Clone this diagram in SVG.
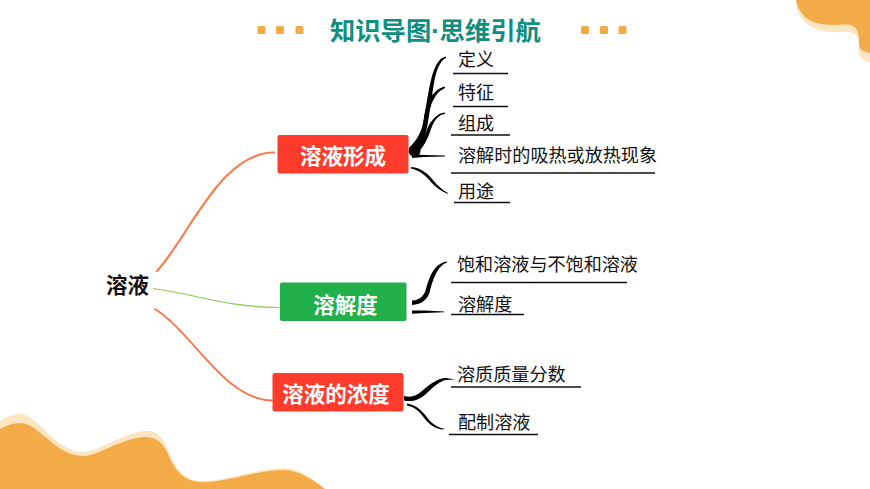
<svg xmlns="http://www.w3.org/2000/svg" width="870" height="489" viewBox="0 0 870 489">
<style>
text{font-family:"Liberation Sans","Noto Sans CJK SC",sans-serif}
.leaf{font-size:18.100px;fill:#111}
.box{font-size:21.500px;font-weight:700;fill:#fff;text-anchor:middle}
.rule{stroke:#111;stroke-width:1.400;fill:none}
.ink{fill:#000;stroke:none}
.dot{fill:#F3AB47}
.pale{fill:#FCE5C1}
.gold{fill:#F3AB47}
</style>
<rect width="870" height="489" fill="#fff"/>
<g id="decor">
<path class="pale" d="M0 421C7 416 14 414 20 414C30 414 38 424 50 435C62 446 72 452 84 452C100 451 122 433 145 431C157 430 163 437 168 450C174 464 182 480 200 481C225 482 255 468 285 468C300 469 312 478 325 489L0 489Z"/>
<path class="gold" d="M0 429C7 425 14 423 20 423C30 423 38 431 50 441C62 451 72 456 84 456C100 455 122 438 145 437C157 437 163 443 168 454C174 468 182 481 200 482C225 483 255 470 285 470C300 471 312 479 325 489L0 489Z"/>
<path class="pale" d="M796 0C797 10 798 14 803 20C812 29 820 32 835 32C848 32 855 31 858 39C860 45 857 52 860 56C862 60 866 62 870 62L870 0Z"/>
<path class="gold" d="M796 0C797 6 800 12 805 17C812 23 822 25 835 25C848 24 856 24 858 33C860 38 858 44 860 48C862 51 866 52 870 53L870 0Z"/>
<rect class="dot" x="257.500" y="26" width="8" height="8" rx="1.500"/>
<rect class="dot" x="276" y="26" width="8" height="8" rx="1.500"/>
<rect class="dot" x="295.500" y="26" width="8" height="8" rx="1.500"/>
<rect class="dot" x="581" y="26" width="8" height="8" rx="1.500"/>
<rect class="dot" x="600" y="26" width="8" height="8" rx="1.500"/>
<rect class="dot" x="618.500" y="26" width="8" height="8" rx="1.500"/>
</g>
<text id="title" x="330" y="40" font-size="25.300" font-weight="700" fill="#0E8F7F">知识导图·思维引航</text>
<g id="connectors">
<path d="M157 271C190 235 220 153 274 152.500" fill="none" stroke="#F97C4E" stroke-width="2.200" stroke-linecap="round"/>
<path d="M153 288.500C195 294 225 307 279 307.500" fill="none" stroke="#8CC850" stroke-width="1.200"/>
<path d="M155 309C195 335 225 400 272 400.500" fill="none" stroke="#F8744A" stroke-width="1.800" stroke-linecap="round"/>
<path class="ink" d="M409 148C414 143 420 136 423 124C426 108 428 92 431 80C434 68 438 58 446 56.500L446 58C441 60 437 68 434.500 80C432 94 430 110 427.500 125C425 138 420 148 412 155Z"/>
<path class="ink" d="M414 148C420 140 422 130 424 118C426 105 431 90 445 86.500L445 88C435 92 430 105 428 118C426 132 424 144 418 152Z"/>
<path class="ink" d="M413 150C422 144 425 135 428 127C432 119 438 113 445 112.500L445 113.800C438 115 434 121 431 129C428 138 424 148 415 155Z"/>
<ellipse class="ink" cx="414.500" cy="151" rx="6" ry="5.500"/>
<path class="ink" d="M412 154L424 155L445 155.500L445 156.500L424 157L412 158Z"/>
<path class="ink" d="M411 167C422 168 428 174 433 180C437 185 442 190 448 193L447.500 193.800C441 191 435 187 431 182C426 176 421 171 411 168.500Z"/>
<path class="ink" d="M412 300.500C420 300 424 296 426 289C429 278 434 263 447 261.500L447 262.800C438 265 433 279 430 291C428 299 422 304.500 412 305Z"/>
<path class="ink" d="M412 310.500L425 310.500L444 311.500L444 312.200L425 313L412 313.800Z"/>
<path class="ink" d="M404 396C411 397.500 416 396.500 422 391C430 384 438 378 446 378L455 379.500L446 380C440 381 433 387 426 394C418 401 411 402 404 400.500Z"/>
<path class="ink" d="M407 403.500C416 405 421 410 426 416C431 423 436 427 444 428.800L444 429.600C435 429 430 425 425 419C420 412 415 407 407 405.500Z"/>
</g>
<g id="root"><text x="106" y="293" font-size="21.500" font-weight="700" fill="#111">溶液</text></g>
<g id="n-formation"><rect x="277.500" y="135" width="131" height="38.500" rx="2" fill="#FF3B2B"/><text class="box" x="343" y="164">溶液形成</text></g>
<g id="n-solubility"><rect x="280" y="282.500" width="126.500" height="38.500" rx="2" fill="#22B04B"/><text class="box" x="345.500" y="313">溶解度</text></g>
<g id="n-concentration"><rect x="272.500" y="373" width="131" height="38.500" rx="2" fill="#FF3B2B"/><text class="box" x="336" y="402">溶液的浓度</text></g>
<g id="l1"><text class="leaf" x="458" y="66">定义</text><path class="rule" d="M453 73.500H508"/></g>
<g id="l2"><text class="leaf" x="458" y="99">特征</text><path class="rule" d="M453 106.500H508"/></g>
<g id="l3"><text class="leaf" x="458" y="130">组成</text><path class="rule" d="M451 135H510"/></g>
<g id="l4"><text class="leaf" x="458" y="162">溶解时的吸热或放热现象</text><path class="rule" d="M451 173H655"/></g>
<g id="l5"><text class="leaf" x="458" y="198">用途</text><path class="rule" d="M454 202.500H510"/></g>
<g id="l6"><text class="leaf" x="457" y="271" font-size="18.200">饱和溶液与不饱和溶液</text><path class="rule" d="M451 282.500H627"/></g>
<g id="l7"><text class="leaf" x="458" y="311">溶解度</text><path class="rule" d="M451 314.500H524"/></g>
<g id="l8"><text class="leaf" x="457" y="381">溶质质量分数</text><path class="rule" d="M451 387H581"/></g>
<g id="l9"><text class="leaf" x="458" y="429">配制溶液</text><path class="rule" d="M449 434.500H538"/></g>
</svg>
